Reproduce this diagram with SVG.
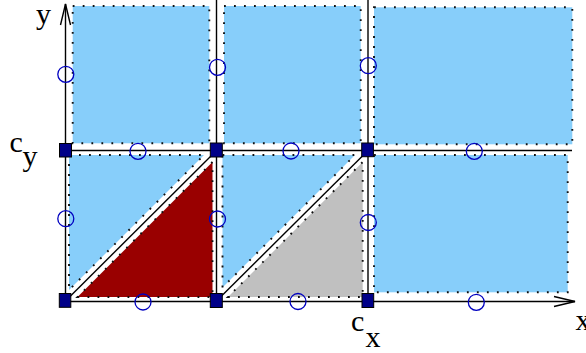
<svg xmlns="http://www.w3.org/2000/svg" width="586" height="353" viewBox="0 0 586 353">
<style>
.cell{fill:#87cefa;stroke:#111;stroke-width:1.9;stroke-dasharray:1.8 8.2;stroke-linejoin:miter}
.red{fill:#990000}
.gray{fill:#c0c0c0}
.ln{stroke:#000;stroke-width:1.4;fill:none}
.pt{fill:none;stroke:#0000c0;stroke-width:1.3}
.sq{fill:#000088;stroke:#000;stroke-width:1}
.lbl{font-family:"Liberation Serif","Times New Roman",serif;font-size:30px;fill:#000}
</style>
<rect width="586" height="353" fill="#fff"/>
<g id="cells">
<rect class="cell" x="72.7" y="6" width="136.6" height="137.3"/>
<rect class="cell" x="224" y="6" width="136.7" height="137.3"/>
<rect class="cell" x="374" y="7.3" width="198.3" height="137"/>
<polygon class="cell" points="69,155 204,155 69,290"/>
<polygon class="cell red" points="77.5,297 212.5,297 212.5,162"/>
<polygon class="cell" points="222.5,155 355,155 222.5,287.5"/>
<polygon class="cell gray" points="228,297 362.7,297 362.7,162"/>
<rect class="cell" x="374" y="155" width="193.7" height="137.3"/>
</g>
<g id="connectors">
<line class="ln" x1="65.5" y1="301" x2="65.5" y2="4"/>
<polyline class="ln" points="60.5,25 65.5,4 70.5,25"/>
<line class="ln" x1="65" y1="301.5" x2="575" y2="301.5"/>
<polyline class="ln" points="554,296.5 575,301.5 554,306.5"/>
<line class="ln" x1="216.5" y1="0" x2="216.5" y2="301"/>
<line class="ln" x1="368" y1="0" x2="368" y2="301"/>
<line class="ln" x1="65" y1="150.5" x2="572" y2="150.5"/>
<line class="ln" x1="65.5" y1="301" x2="216.5" y2="150.5"/>
<line class="ln" x1="216.5" y1="301" x2="368" y2="150.5"/>
</g>
<g id="midpoints">
<circle class="pt" cx="65.8" cy="74.3" r="8"/>
<circle class="pt" cx="138" cy="151.3" r="8"/>
<circle class="pt" cx="65.8" cy="218.7" r="8"/>
<circle class="pt" cx="143" cy="302" r="8"/>
<circle class="pt" cx="217.5" cy="67.3" r="8"/>
<circle class="pt" cx="291" cy="151" r="8"/>
<circle class="pt" cx="217.5" cy="219" r="8"/>
<circle class="pt" cx="298" cy="301.5" r="8"/>
<circle class="pt" cx="368.3" cy="65.7" r="8"/>
<circle class="pt" cx="368.3" cy="222.5" r="8"/>
<circle class="pt" cx="474.3" cy="151.3" r="8"/>
<circle class="pt" cx="476.3" cy="302.3" r="8"/>
</g>
<g id="node-0-cy"><rect class="sq" x="59.5" y="143.5" width="12" height="13.5"/></g>
<g id="node-1-cy"><rect class="sq" x="210.3" y="143" width="12" height="14"/></g>
<g id="node-cx-cy"><rect class="sq" x="361.7" y="143" width="11.7" height="13.7"/></g>
<g id="node-0-0"><rect class="sq" x="59.3" y="293.5" width="11.5" height="13.8"/></g>
<g id="node-1-0"><rect class="sq" x="210.3" y="293.5" width="12" height="14"/></g>
<g id="node-cx-0"><rect class="sq" x="362" y="293.5" width="11.7" height="14"/></g>
<g id="labels">
<text class="lbl" x="36" y="24">y</text>
<text class="lbl" x="575.5" y="330">x</text>
<text class="lbl" x="9.5" y="151.5">c</text>
<text class="lbl" x="22.5" y="165.5">y</text>
<text class="lbl" x="351" y="331">c</text>
<text class="lbl" x="365.5" y="347">x</text>
</g>
</svg>
